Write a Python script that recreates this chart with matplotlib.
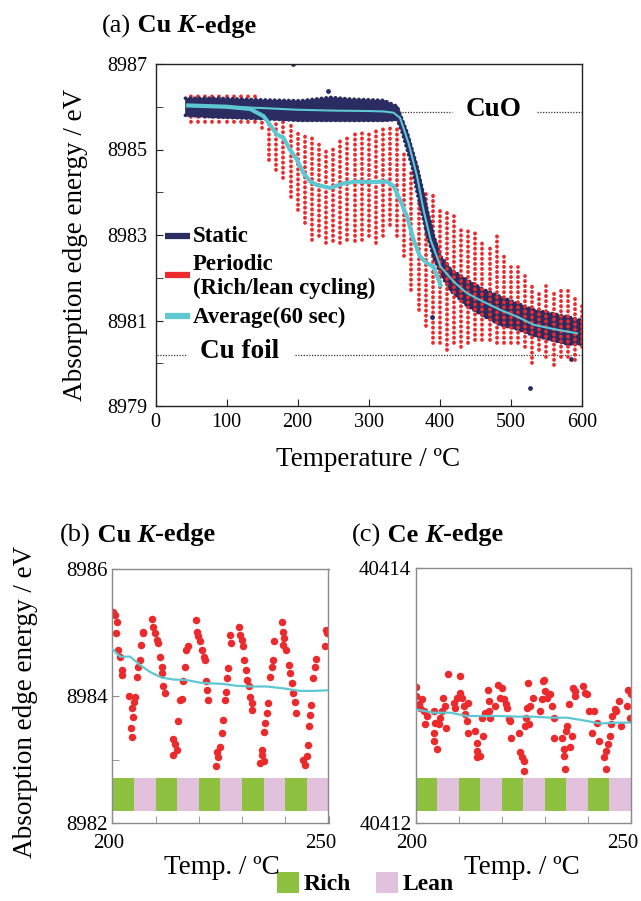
import matplotlib
matplotlib.use("Agg")
import matplotlib.pyplot as plt
from matplotlib.patches import Rectangle
from matplotlib.transforms import ScaledTranslation

plt.rcParams["font.family"] = ["Liberation Serif", "DejaVu Serif"]

# ---------------- data, panel (a) ----------------
# static: envelope of the dense navy cloud
static_T = [42, 86, 152, 204, 246, 274, 321, 340, 347, 354, 361, 368, 375, 382,
            391, 401, 415, 438, 462, 485, 509, 532, 556, 579, 598]
static_hi = [8986.20, 8986.20, 8986.16, 8986.14, 8986.22, 8986.18, 8986.15, 8986.01,
             8985.70, 8985.40, 8985.00, 8984.60, 8984.10, 8983.60, 8983.00, 8982.50,
             8982.20, 8981.95, 8981.72, 8981.56, 8981.40, 8981.25, 8981.17, 8981.09, 8981.01]
static_lo = [8985.80, 8985.76, 8985.72, 8985.68, 8985.68, 8985.68, 8985.68, 8985.70,
             8985.40, 8985.00, 8984.60, 8984.00, 8983.50, 8983.00, 8982.50, 8982.10,
             8981.70, 8981.35, 8981.10, 8980.90, 8980.80, 8980.65, 8980.55, 8980.45, 8980.45]
static_out_T = [194, 243, 389, 527, 584]
static_out_E = [8986.99, 8986.36, 8981.09, 8979.41, 8980.11]

avg_static_T = [46, 100, 150, 200, 250, 300, 321, 335, 344, 356, 368, 377, 387, 401,
                420, 438, 460, 485, 510, 532, 560, 593]
avg_static_E = [8986.03, 8986.00, 8985.97, 8985.93, 8985.91, 8985.90, 8985.89, 8985.86,
                8985.74, 8985.15, 8984.37, 8983.59, 8982.89, 8982.26, 8981.90, 8981.64,
                8981.45, 8981.25, 8981.08, 8980.90, 8980.80, 8980.70]

avg_periodic_T = [46, 100, 133, 152, 161, 171, 180, 189, 199, 208, 218, 227, 246, 265,
                  283, 302, 326, 335, 344, 354, 363, 372, 382, 391, 401]
avg_periodic_E = [8986.03, 8986.00, 8985.95, 8985.78, 8985.58, 8985.35, 8985.27, 8985.00,
                  8984.76, 8984.45, 8984.25, 8984.17, 8984.10, 8984.21, 8984.25, 8984.24,
                  8984.25, 8984.14, 8983.82, 8983.43, 8982.89, 8982.50, 8982.34, 8982.26,
                  8981.83]

# periodic: one vertical streak per rich/lean cycle (top and bottom of each streak)
streak_T = [50, 60, 70, 80, 90, 100, 110, 120, 130, 140,
            150, 160, 170, 180, 190, 200, 210, 220, 230, 240,
            250, 260, 270, 280, 290, 300, 310, 320, 330, 340,
            350, 360, 370, 380, 390, 400, 410, 420, 430, 440,
            450, 460, 470, 480, 490, 500, 510, 520, 530, 540,
            550, 560, 570, 580, 590, 600]
streak_hi = [8986.25, 8986.25, 8986.25, 8986.25, 8986.25, 8986.25, 8986.25, 8986.25, 8986.25, 8986.25,
             8985.89, 8985.78, 8985.70, 8985.66, 8985.58, 8985.46, 8985.39, 8985.31, 8985.19, 8985.07,
             8985.11, 8985.23, 8985.31, 8985.39, 8985.39, 8985.46, 8985.46, 8985.58, 8985.58, 8985.54,
             8985.00, 8984.50, 8983.75, 8984.06, 8983.98, 8983.59, 8983.59, 8983.51, 8983.12, 8983.12,
             8983.04, 8982.81, 8982.73, 8983.00, 8982.50, 8982.26, 8982.26, 8982.03, 8981.87, 8981.72,
             8981.80, 8981.72, 8981.72, 8981.72, 8981.56, 8981.40]
streak_lo = [8985.64, 8985.64, 8985.64, 8985.64, 8985.64, 8985.64, 8985.64, 8985.64, 8985.64, 8985.64,
             8985.50, 8984.76, 8984.53, 8984.33, 8983.90, 8983.59, 8983.28, 8982.89, 8982.97, 8982.81,
             8982.85, 8982.81, 8982.89, 8982.85, 8982.89, 8982.97, 8982.81, 8982.97, 8983.24, 8982.97,
             8982.50, 8981.72, 8981.25, 8980.86, 8980.47, 8980.47, 8980.31, 8980.47, 8980.39, 8980.47,
             8980.55, 8980.55, 8980.55, 8980.47, 8980.47, 8980.47, 8980.47, 8980.39, 8980.00, 8980.31,
             8980.15, 8979.96, 8980.15, 8980.15, 8980.08, 8980.39]

# ---------------- data, panel (b) Cu K-edge zoom ----------------
cu_T = [200.2, 200.6, 201.0, 200.85, 201.4, 201.8, 202.2, 202.2, 203.9, 204.5, 204.7, 204.25,
        204.5, 205.25, 205.0, 205.6, 206.0, 206.4, 206.6, 207.0, 207.2,
        209.1, 209.5, 209.9, 210.3, 210.65, 211.0, 211.4, 211.4, 211.8, 212.2, 214.1, 214.5,
        214.0, 214.9, 215.3, 215.7, 216.05, 216.4, 216.8, 217.05, 217.4,
        219.4, 219.5, 219.9, 220.3, 220.7, 221.1, 221.45, 221.7, 221.85, 222.2, 224.2, 224.5,
        224.0, 224.9, 225.3, 225.7, 226.1, 226.3, 226.6, 226.7, 227.2, 227.4,
        229.2, 229.6, 229.9, 230.3, 230.5, 230.95, 231.1, 231.5, 231.9, 232.3, 232.3, 234.6,
        235.0, 234.2, 234.6, 235.0, 235.35, 235.7, 236.0, 236.5, 236.9, 237.1, 237.3,
        239.2, 239.4, 239.7, 239.4, 240.2, 240.75, 241.1, 241.5, 241.9, 242.3, 242.5, 244.2,
        244.6, 245.0, 245.15, 245.6, 245.8, 245.9, 246.5, 246.9, 247.15, 249.2, 249.5, 249.6]
cu_E = [8985.33, 8985.28, 8985.17, 8984.99, 8984.72, 8984.62, 8984.41, 8984.33, 8984.00, 8983.81,
        8983.67, 8983.49, 8983.36, 8983.99, 8983.91, 8984.30, 8984.46, 8984.57, 8984.80, 8984.99,
        8985.01,
        8985.22, 8985.09, 8984.99, 8984.88, 8984.83, 8984.62, 8984.46, 8984.36, 8984.15, 8984.04,
        8983.33, 8983.25, 8983.07, 8983.15, 8983.60, 8983.94, 8983.96, 8984.23, 8984.46, 8984.72,
        8984.78,
        8985.19, 8985.01, 8984.94, 8984.86, 8984.72, 8984.62, 8984.57, 8984.23, 8984.10, 8983.94,
        8983.12, 8983.04, 8982.90, 8983.20, 8983.41, 8983.62, 8983.94, 8984.07, 8984.28, 8984.44,
        8984.96, 8984.83,
        8985.09, 8984.96, 8984.88, 8984.78, 8984.57, 8984.41, 8984.25, 8984.15, 8983.99, 8983.89,
        8983.78, 8983.07, 8982.97, 8982.94, 8983.15, 8983.44, 8983.57, 8983.73, 8983.89, 8984.30,
        8984.46, 8984.57, 8984.86,
        8985.17, 8985.01, 8984.91, 8984.80, 8984.72, 8984.49, 8984.36, 8984.20, 8984.04, 8983.91,
        8983.73, 8982.99, 8982.91, 8983.05, 8983.23, 8983.52, 8983.70, 8983.86, 8984.28, 8984.46,
        8984.59, 8984.78, 8985.04, 8984.99]
cu_avg_T = [200.0, 201.8, 204.1, 206.4, 208.7, 211.4, 214.1, 217.2, 220.3, 222.6, 225.7,
            228.8, 231.9, 235.7, 239.6, 243.4, 246.5, 250.0]
cu_avg_E = [8984.74, 8984.62, 8984.62, 8984.49, 8984.38, 8984.29, 8984.26, 8984.25, 8984.21,
            8984.20, 8984.19, 8984.16, 8984.15, 8984.15, 8984.12, 8984.08, 8984.08, 8984.09]

# ---------------- data, panel (c) Ce K-edge zoom ----------------
ce_T = [200.2, 200.2, 200.7, 201.1, 201.5, 201.9, 202.3, 202.6, 204.2, 204.6, 204.2, 204.2,
        205.0, 205.4, 205.7, 206.1, 206.5, 206.9, 207.1, 207.5, 208.9, 209.2, 209.6, 210.3,
        210.4, 210.8, 211.2, 211.6, 212.0, 212.3, 212.3,
        213.9, 214.3, 214.4, 214.3, 215.1, 215.5, 215.8, 216.2, 216.8, 217.0, 217.2, 217.4,
        218.6, 219.3, 219.7, 220.1, 220.5, 221.1, 221.3, 221.7, 222.05, 222.2,
        224.0, 224.4, 224.8, 225.2, 225.3, 225.5, 225.8, 225.9, 226.1, 226.3, 226.7, 227.3,
        229.0, 229.4, 229.7, 229.8, 230.2, 230.6, 231.2, 231.8, 232.1, 232.3,
        234.1, 234.5, 234.5, 234.7, 234.9, 235.25, 235.6, 236.0, 236.4, 236.7, 237.0, 237.2,
        239.0, 239.5, 239.9, 240.3,
        241.1, 241.6, 242.1, 242.6, 243.8, 244.2, 244.4, 244.7, 245.2, 245.5, 245.7, 246.3,
        246.7, 247.3, 247.7, 249.2, 249.5, 249.8, 250.0]
ce_E = [40413.065, 40412.995, 40412.930, 40412.904, 40412.969, 40412.878, 40412.774, 40412.839,
        40412.878, 40412.787, 40412.709, 40412.644, 40412.580, 40412.774, 40412.826, 40412.878,
        40412.982, 40412.917, 40412.748, 40413.169, 40412.943, 40412.904, 40412.982, 40413.151,
        40413.021, 40412.982, 40412.917, 40412.852, 40412.800, 40412.943, 40412.709,
        40412.722, 40412.631, 40412.567, 40412.515, 40412.528, 40412.826, 40412.683, 40412.865,
        40413.047, 40412.956, 40412.878, 40412.826, 40412.917, 40413.086, 40412.982, 40413.060,
        40412.969, 40412.930, 40412.904, 40412.813, 40412.800, 40412.670,
        40412.709, 40412.554, 40412.515, 40412.489, 40412.411, 40412.761, 40412.826, 40412.904,
        40413.099, 40412.774, 40412.917, 40412.982, 40412.878, 40412.969, 40413.112, 40413.125,
        40413.034, 40412.982, 40413.008, 40412.917, 40412.826, 40412.670,
        40412.670, 40412.580, 40412.528, 40412.424, 40412.722, 40412.761, 40412.930, 40412.593,
        40412.683, 40413.060, 40413.034, 40412.995, 40413.073, 40413.021, 40413.008, 40412.878,
        40412.709, 40412.878, 40412.787, 40412.644, 40412.515, 40412.567, 40412.424, 40412.618,
        40412.683, 40412.774, 40412.839, 40412.891, 40412.878, 40412.956, 40412.761, 40412.917,
        40413.047, 40412.826, 40413.008]
ce_avg_T = [200.0, 204.2, 208.1, 212.0, 215.8, 219.7, 223.6, 227.5, 231.4, 235.25, 237.6,
            239.9, 243.0, 246.9, 250.0]
ce_avg_E = [40412.891, 40412.865, 40412.865, 40412.839, 40412.839, 40412.839, 40412.834,
            40412.834, 40412.826, 40412.826, 40412.813, 40412.800, 40412.780, 40412.787,
            40412.787]

# gas cycling: 5 s rich / 5 s lean
cycle_start = [200, 205, 210, 215, 220, 225, 230, 235, 240, 245]
cycle_gas = ["Rich", "Lean", "Rich", "Lean", "Rich", "Lean", "Rich", "Lean", "Rich", "Lean"]

NAVY = "#2b2c62"
RED = "#ec2a2c"
CYAN = "#5ec8d2"
GAS_COLORS = {"Rich": "#8dc13f", "Lean": "#e2c1dc"}

W, H = 641, 901
fig = plt.figure(figsize=(W / 100, H / 100), dpi=100)


def box(l, t, r, b):
    return [l / W, 1 - b / H, (r - l) / W, (b - t) / H]


def px(x, y):
    return x / W, 1 - y / H


def rich_text(x, y, parts, size):
    # draw pieces one after the other so each keeps its own weight/style
    rend = fig.canvas.get_renderer()
    for s, weight, style in parts:
        t = fig.text(*px(x, y), s, fontsize=size, fontweight=weight,
                     fontstyle=style, va="center", ha="left")
        x += t.get_window_extent(rend).width


def style_axes(ax, edge, size):
    for sp in ax.spines.values():
        sp.set_color(edge)
        sp.set_linewidth(1.0)
    ax.tick_params(which="both", direction="in", color=edge, labelsize=size,
                   top=False, right=False, length=5)


dots = (0, (0.1, 1.25))

# ---------------- panel (a) ----------------
ax = fig.add_axes(box(155.5, 64, 582, 406))
for T, hi, lo in zip(streak_T, streak_hi, streak_lo):
    ax.plot([T, T], [lo, hi], color=RED, lw=2.7, ls=dots,
            dash_capstyle="round", zorder=3 if T >= 400 else 1)
ax.fill_between(static_T, static_lo, static_hi, color=NAVY, lw=1.0, zorder=2)
# rough dotted rims on the static band
ax.plot(static_T, static_hi, color=NAVY, lw=2.6, ls=(0, (0.1, 1.2)),
        dash_capstyle="round", zorder=2)
ax.plot(static_T, static_lo, color=NAVY, lw=2.6, ls=(0, (0.1, 1.2)),
        dash_capstyle="round", zorder=2)
ax.scatter(static_out_T, static_out_E, s=6, color=NAVY, zorder=2)
ax.plot(avg_static_T, avg_static_E, color=CYAN, lw=1.5, zorder=4)
ax.plot(avg_periodic_T, avg_periodic_E, color=CYAN, lw=3, zorder=4)

# reference levels
ref = dict(color="#333333", lw=0.9, ls=(0, (1, 1.2)))
ax.plot([347, 417], [8985.885, 8985.885], **ref)
ax.plot([537, 600], [8985.885, 8985.885], **ref)
ax.plot([1.6, 43], [8980.19, 8980.19], **ref)
ax.plot([196.5, 600], [8980.19, 8980.19], **ref)
ax.text(476, 8985.93, "CuO", fontsize=19.5, fontweight="bold", ha="center", va="center")
ax.text(117.6, 8980.27, "Cu foil", fontsize=19.5, fontweight="bold", ha="center", va="center")

ax.set_xlim(0, 600)
ax.set_ylim(8979, 8987)
ax.set_xticks(range(0, 601, 100))
ax.set_yticks([8979, 8981, 8983, 8985, 8987])
ax.set_yticks([8980, 8982, 8984, 8986], minor=True)
style_axes(ax, "#222222", 14.5)
ax.tick_params(axis="y", pad=6)
ax.tick_params(axis="x", pad=5)

# legend drawn by hand
for yy, col in [(236, NAVY), (275, RED), (316, CYAN)]:
    ax.plot([(165 - 155.5) / 426.5, (190 - 155.5) / 426.5], [(406 - yy) / 342] * 2,
            color=col, lw=4.5, transform=ax.transAxes, solid_capstyle="butt", zorder=6)
for yy, s in [(236, "Static"), (264, "Periodic"), (288, "(Rich/lean cycling)"),
              (317, "Average(60 sec)")]:
    fig.text(*px(193, yy), s, fontsize=16.5, fontweight="bold", va="center", ha="left")

rich_text(102, 26, [("(a)", "normal", "normal"), (" Cu", "bold", "normal"),
                    (" K", "bold", "italic"), ("-edge", "bold", "normal")], 19)
fig.text(*px(76, 245), "Absorption edge energy / eV", rotation=90, fontsize=19.5,
         ha="center", va="center")
fig.text(*px(368, 460), "Temperature / \u00baC", fontsize=19.5, ha="center", va="center")


# ---------------- panels (b) and (c) ----------------
def zoom_panel(rect, T, E, avg_T, avg_E, ylim, bar_lo, bar_hi, yticks, yminor):
    ax = fig.add_axes(rect)
    ax.bar(cycle_start, bar_hi - bar_lo, width=5, bottom=bar_lo, align="edge",
           color=[GAS_COLORS[g] for g in cycle_gas], lw=0, zorder=1)
    ax.plot(T, E, "o", color=RED, ms=5.4, mew=0, zorder=2)
    ax.plot(avg_T, avg_E, color=CYAN, lw=1.6, zorder=3)
    ax.set_xlim(200, 250)
    ax.set_ylim(*ylim)
    ax.set_xticks([200, 250])
    ax.set_xticks([210, 220, 230, 240], minor=True)
    ax.set_yticks(yticks)
    ax.set_yticks(yminor, minor=True)
    ax.ticklabel_format(useOffset=False, style="plain", axis="y")
    style_axes(ax, "#8a8a8a", 15)
    ax.tick_params(axis="y", pad=3)
    ax.tick_params(axis="x", pad=8)
    # the x labels sit a little left of their ticks in the original
    for lab, dx in zip(ax.get_xticklabels(), [-4, -8]):
        lab.set_transform(lab.get_transform() + ScaledTranslation(dx / 100, 0, fig.dpi_scale_trans))
    return ax


zoom_panel(box(112.3, 569, 328.5, 823), cu_T, cu_E, cu_avg_T, cu_avg_E,
           (8982, 8986), 8982.19, 8982.71, [8982, 8984, 8986], [8983, 8985])
zoom_panel(box(415.5, 568, 630.5, 823), ce_T, ce_E, ce_avg_T, ce_avg_E,
           (40412, 40414), 40412.094, 40412.35, [40412, 40414], [])

rich_text(60, 535, [("(b)", "normal", "normal"), (" Cu", "bold", "normal"),
                    (" K", "bold", "italic"), ("-edge", "bold", "normal")], 19)
rich_text(352, 535, [("(c)", "normal", "normal"), (" Ce", "bold", "normal"),
                     (" K", "bold", "italic"), ("-edge", "bold", "normal")], 19)
fig.text(*px(26, 702), "Absorption edge energy / eV", rotation=90, fontsize=19.5,
         ha="center", va="center")
fig.text(*px(222, 868), "Temp. / \u00baC", fontsize=19.5, ha="center", va="center")
fig.text(*px(522, 868), "Temp. / \u00baC", fontsize=19.5, ha="center", va="center")

# rich / lean key
for x0, g in [(277, "Rich"), (376, "Lean")]:
    fig.add_artist(Rectangle(px(x0, 893), 22 / W, 21 / H, transform=fig.transFigure,
                             facecolor=GAS_COLORS[g], edgecolor="none"))
    fig.text(*px(x0 + 27, 884), g, fontsize=17, fontweight="bold", va="center", ha="left")

fig.savefig("out.png", dpi=100)
